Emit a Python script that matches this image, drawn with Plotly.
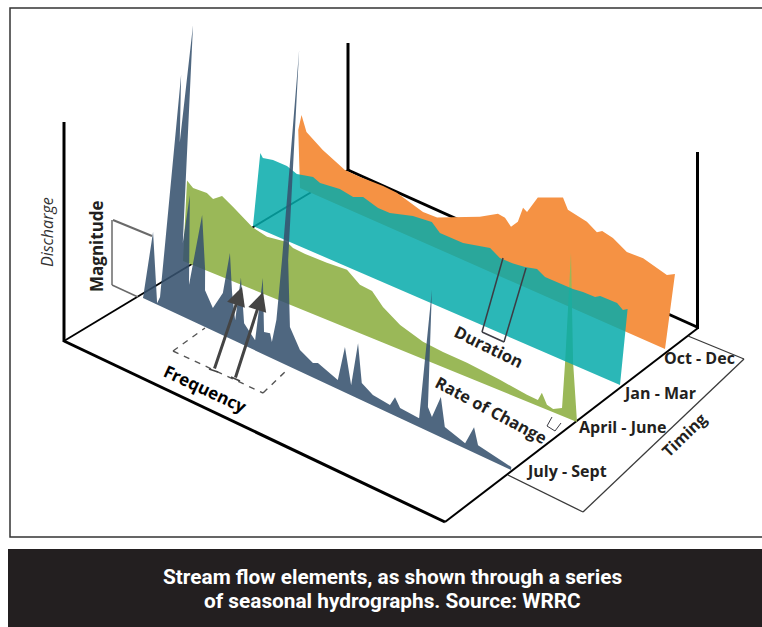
import plotly.graph_objects as go

# Position through each season (0-100 %) and discharge
BLUE_T = [0, 0.9, 3.8, 4.4, 4.1, 5.5, 5.9, 8.0, 8.9, 9.5, 11.6, 13.2, 15.4, 15.9, 18.4, 20.6, 21.4, 23, 24.5, 24.9, 26.9, 30.2, 30.6, 32.3, 33.9, 34.6, 35.2, 35.1, 34.1, 36.7, 38.9, 42.1, 45.8, 47.1, 52.7, 53.7, 56.3, 57, 59, 62.2, 66.9, 68, 69.6, 74.8, 74.8, 76.8, 78.1, 79.9, 81.7, 87.4, 89.3, 90.8, 100]
BLUE_V = [0, 67.5, 1.4, 8.5, 230, 165, 283, 126.6, 70.4, 119, 33, 105.6, 54.5, 35, 21.7, 40.5, 81.8, 44.5, 20, 63, 21, 9.8, 72.6, 21.5, 23, 15.5, 38.8, 98, 306.5, 101, 37.8, 20.3, 13.8, 16, 8.6, 43.3, 9.6, 52.9, 16.5, 10, 8, 17.8, 9.6, 8.5, 136.6, 23, 15.3, 38.4, 11.5, 5.2, 24.4, 9, 3]

GREEN_T = [0, 1.6, 5.1, 6.7, 8.9, 11.8, 16.8, 20.6, 25.6, 27.2, 30.3, 35.8, 40.9, 44.3, 47.4, 50.3, 54.8, 60.7, 65.8, 71.9, 80.3, 87.2, 90, 90.9, 92.3, 93.9, 96.1, 96.3, 96.5, 96.4, 98.3, 100]
GREEN_V = [80.6, 75.6, 76.3, 72.8, 79.4, 72.9, 61, 57.3, 60.3, 56.9, 55.8, 55.8, 57, 47.5, 46.4, 35.1, 24.3, 16.9, 15, 13.9, 10.5, 6.6, 6, 14.5, 4.8, 3.2, 7.8, 53, 136.6, 163.4, 56.4, 2]

TEAL_T = [0, 0.8, 3.5, 7.3, 10.1, 14.4, 16.4, 21.7, 25.4, 28, 32.2, 35.4, 41.5, 46.6, 49, 55.3, 62.5, 65.3, 68.9, 72.1, 75.3, 77.6, 85.2, 87.9, 91.2, 92.5, 97.1, 98.8, 100]
TEAL_V = [72.9, 69.3, 71.6, 71.6, 68, 71.9, 69, 71.6, 69.3, 73.4, 69.1, 69.3, 76, 78.1, 71, 71, 77.3, 71.9, 72, 73.6, 76.7, 72.3, 72.5, 73.7, 73.9, 77, 77.3, 73, 76]

ORANGE_T = [0, 1.0, 2.2, 6.5, 12.4, 16.5, 22.7, 26.4, 33.5, 37.3, 42.6, 48.6, 53.3, 55.2, 56.9, 58.6, 59.7, 60.8, 63.3, 69.7, 71.2, 76.3, 79.1, 80.4, 83.3, 87.2, 91.5, 96.1, 98, 100]
ORANGE_V = [58, 74.6, 59.5, 48.5, 38, 37.6, 38.5, 37.7, 30, 30.6, 39.6, 49.4, 60, 59, 52.8, 60.5, 76.3, 74, 92.4, 102.7, 93, 89, 83, 86.4, 84, 76.4, 77, 72.6, 70.8, 75]

SEASONS = ["July - Sept", "April - June", "Jan - Mar", "Oct - Dec"]
TITLE_LINES = ["Stream flow elements, as shown through a series", "of seasonal hydrographs. Source: WRRC"]


def project(ts, vs, start, end, lean0, lean1):
    """Oblique projection of a season's hydrograph onto the page."""
    xs, ys = [], []
    for t, v in zip(ts, vs):
        f = t / 100
        lean = lean0 + (lean1 - lean0) * f
        xs.append(start[0] + (end[0] - start[0]) * f + v * lean)
        ys.append(start[1] + (end[1] - start[1]) * f - v)
    return xs, ys


def hydro(name, ts, vs, start, end, lean0, lean1, color, opacity):
    x, y = project(ts, vs, start, end, lean0, lean1)
    x = [start[0]] + x + [end[0], start[0]]
    y = [start[1]] + y + [end[1], start[1]]
    return go.Scatter(x=x, y=y, name=name, mode="lines", fill="toself", fillcolor=color,
                      line=dict(width=0), opacity=opacity, hoverinfo="skip", showlegend=False)


fig = go.Figure()
fig.add_trace(hydro(SEASONS[3], ORANGE_T, ORANGE_V, (300, 188), (665, 349), -0.03, 0.133, "rgb(245,146,68)", 1))
fig.add_trace(hydro(SEASONS[1], GREEN_T, GREEN_V, (183, 261), (577, 422), 0.05, 0.05, "rgb(154,184,88)", 1))
fig.add_trace(hydro(SEASONS[2], TEAL_T, TEAL_V, (253, 226), (620, 385), 0.1, 0.1, "rgb(6,170,170)", 0.85))
fig.add_trace(hydro(SEASONS[0], BLUE_T, BLUE_V, (143, 298), (511, 470), 0.1, 0.1, "rgb(55,82,110)", 0.88))


def seg(x0, y0, x1, y1, color="black", width=1.5, layer="above", dash="solid"):
    return dict(type="line", x0=x0, y0=y0, x1=x1, y1=y1, layer=layer,
                line=dict(color=color, width=width, dash=dash))


shapes = [
    # frame and caption band
    dict(type="rect", x0=10, y0=8, x1=770, y1=537, layer="below", line=dict(color="#333333", width=1.5)),
    dict(type="rect", x0=8, y0=549, x1=770, y1=630, layer="below", fillcolor="#231f20", line=dict(width=0)),
    # axes and walls
    seg(64, 122, 64, 342, width=3, layer="below"),
    seg(348, 43, 348, 171, width=3, layer="below"),
    seg(697.5, 152, 697.5, 329, width=3, layer="below"),
    seg(64, 341, 445, 522, width=3, layer="below"),
    seg(445, 522, 698, 328, width=2, layer="below"),
    seg(64, 341, 348, 170, width=1.8, layer="below"),
    seg(348, 170, 697, 327, width=3, layer="below"),
    # timing box
    seg(508, 475, 583, 512, "#3a3a3a", 1.3),
    seg(583, 512, 744, 359, "#3a3a3a", 1.3),
    seg(744, 359, 688, 336, "#3a3a3a", 1.3),
    # magnitude bracket
    seg(152, 236, 113, 220, "#6a6a6a", 2),
    seg(112, 220, 112, 285, "#6a6a6a", 1.5),
    seg(112, 285, 138, 297, "#6a6a6a", 1.5),
    # duration bracket
    seg(503, 258, 482, 332, "#3c3c44", 1.5),
    seg(482, 332, 504, 342, "#3c3c44", 1.5),
    seg(504, 342, 526, 268, "#3c3c44", 1.5),
    # rate of change bracket
    seg(552, 417, 547, 426, "#3c3c44", 1),
    seg(547, 426, 555, 431, "#3c3c44", 1),
    seg(555, 431, 561, 423, "#3c3c44", 1),
    # frequency dashes
    seg(173, 351, 263, 393, "#555555", 1.4, dash="6px,6px"),
    seg(173, 351, 205, 328, "#555555", 1.4, dash="6px,6px"),
    seg(263, 393, 288, 369, "#555555", 1.4, dash="6px,6px"),
    seg(209, 369, 218, 372, "#444444", 1.4),
    seg(231, 377, 240, 381, "#444444", 1.4),
]

BODY = "Open Sans, Noto Sans, sans-serif"
DARK = "#231f20"


def label(x, y, text, size, angle=0, color=DARK, family=BODY, bold=True, italic=False):
    t = f"<b>{text}</b>" if bold else text
    if italic:
        t = f"<i>{t}</i>"
    return dict(x=x, y=y, text=t, showarrow=False, textangle=angle, xanchor="center", yanchor="middle",
                font=dict(size=size, color=color, family=family))


annotations = [
    label(96, 246, "Magnitude", 17, -90),
    label(47, 232, "Discharge", 16, -90, "#333333", bold=False, italic=True),
    label(489, 346, "Duration", 16.6, 26),
    label(205, 388, "Frequency", 17, 25, "black"),
    label(491, 409, "Rate of Change", 16.4, 28),
    label(684, 435, "Timing", 16, -44),
    label(566, 471, SEASONS[0], 16),
    label(622, 427, SEASONS[1], 16),
    label(659, 393, SEASONS[2], 16),
    label(699, 358, SEASONS[3], 16),
]
for yc, line in zip((577, 601), TITLE_LINES):
    annotations.append(dict(x=392, y=yc, text=f"<b>{line}</b>", showarrow=False, xanchor="center", yanchor="middle",
                            font=dict(size=20.8, color="white", family="Liberation Sans Narrow, Roboto, sans-serif")))
for tail, tip in [((214, 370), (242, 287)), ((235, 379), (263, 292))]:
    annotations.append(dict(x=tip[0], y=tip[1], ax=tail[0], ay=tail[1], axref="x", ayref="y",
                            xref="x", yref="y", text="", showarrow=True, arrowhead=2,
                            arrowsize=1.25, arrowwidth=3, arrowcolor="#444444"))

fig.update_layout(
    width=762, height=627, autosize=False, margin=dict(l=0, r=0, t=0, b=0),
    paper_bgcolor="white", plot_bgcolor="white", showlegend=False,
    xaxis=dict(range=[0, 762], visible=False, fixedrange=True),
    yaxis=dict(range=[627, 0], visible=False, fixedrange=True),
    shapes=shapes, annotations=annotations,
)
fig.write_html("out.html", config={"displayModeBar": False},
               post_script="document.body.style.margin='0';")
